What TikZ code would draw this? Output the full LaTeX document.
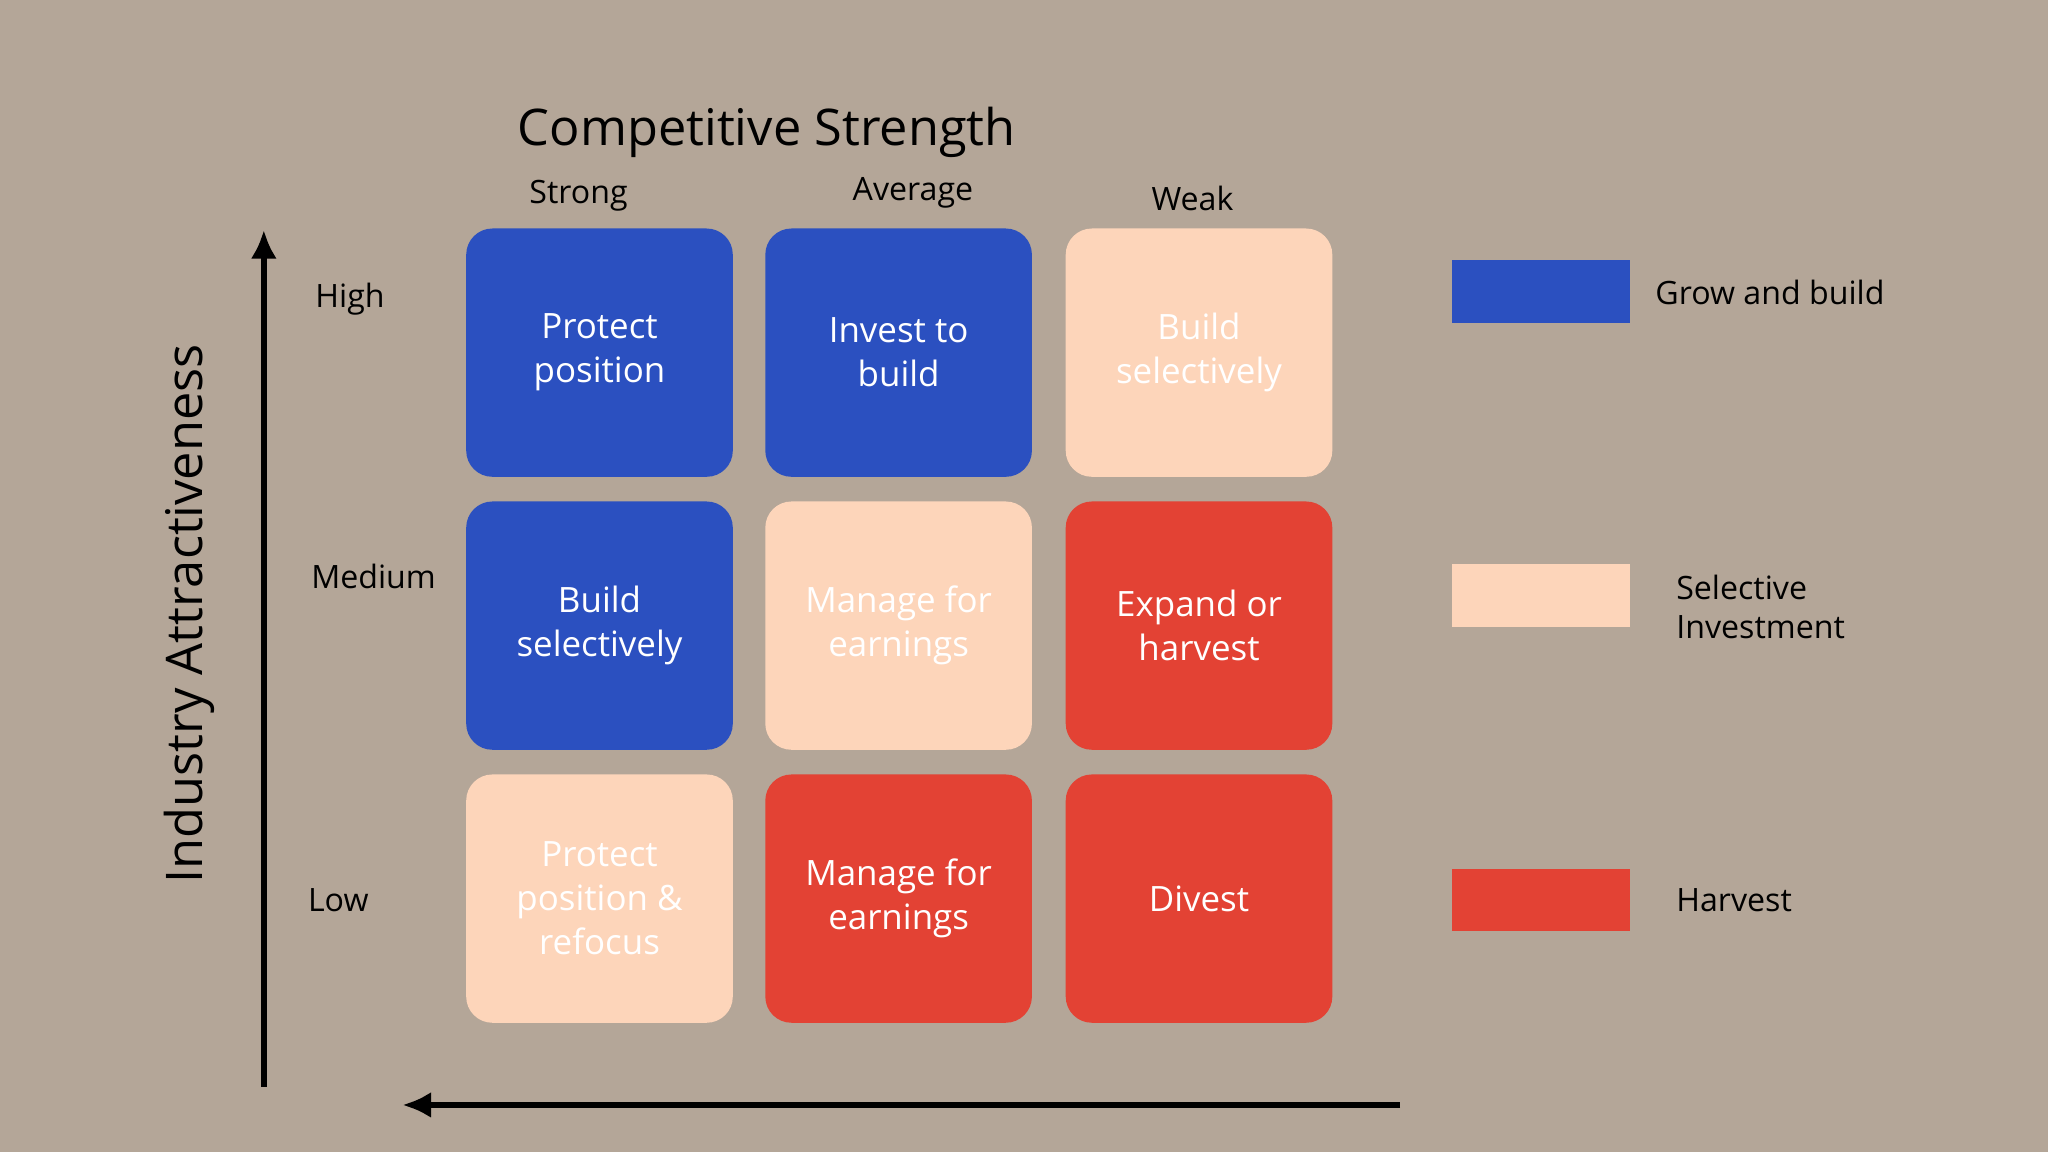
\documentclass[tikz,border=0pt]{standalone}
\usepackage{fontspec}
\setmainfont{Open Sans}
\definecolor{bg}{HTML}{B4A698}
\definecolor{cblue}{HTML}{2B50C0}
\definecolor{cpeach}{HTML}{FDD5BA}
\definecolor{cred}{HTML}{E34234}
\begin{document}
\begin{tikzpicture}[x=0.01cm,y=-0.01cm,
  cell/.style={rounded corners=0.2cm,minimum width=2.04cm,minimum height=1.9cm,text=white,align=center,font=\fontsize{7.6}{9.6}\selectfont,inner sep=0},
  lbl/.style={font=\fontsize{7}{8.5}\selectfont,text=black},
  leg/.style={minimum width=1.36cm,minimum height=0.48cm,inner sep=0},
  axis/.style={line width=0.05cm,-{Latex[length=0.22cm,width=0.2cm]}}]
\usetikzlibrary{arrows.meta}
\fill[bg] (0,0) rectangle (1568,882);
\useasboundingbox (0,0) rectangle (1568,882);
\node[cell,fill=cblue] (a) at (459,270) {Protect\\position};
\node[cell,fill=cblue] (b) at (688,270) {Invest to\\build};
\node[cell,fill=cpeach] (c) at (918,270) {Build\\selectively};
\node[cell,fill=cblue] (d) at (459,479) {Build\\selectively};
\node[cell,fill=cpeach] (e) at (688,479) {Manage for\\earnings};
\node[cell,fill=cred] (f) at (918,479) {Expand or\\harvest};
\node[cell,fill=cpeach] (g) at (459,688) {Protect\\position \&\\refocus};
\node[cell,fill=cred] (h) at (688,688) {Manage for\\earnings};
\node[cell,fill=cred] (i) at (918,688) {Divest};
\node[font=\fontsize{11}{13}\selectfont] (t) at (587,101) {Competitive Strength};
\node[lbl] (s1) at (443,150) {Strong};
\node[lbl] (s2) at (699,148) {Average};
\node[lbl] (s3) at (913,152) {Weak};
\node[lbl] (r1) at (268,229) {High};
\node[lbl] (r2) at (286,441) {Medium};
\node[lbl] (r3) at (259,689) {Low};
\node[rotate=90,font=\fontsize{11}{13}\selectfont] (v) at (145,470) {Industry Attractiveness};
\coordinate (v0) at (202,832); \coordinate (v1) at (202,176);
\draw[axis] (v0) -- (v1);
\coordinate (h0) at (1072,846); \coordinate (h1) at (308,846);
\draw[axis] (h0) -- (h1);
\node[leg,fill=cblue] (l1) at (1180,223) {};
\node[leg,fill=cpeach] (l2) at (1180,456) {};
\node[leg,fill=cred] (l3) at (1180,689) {};
\node[lbl,anchor=west] at (1255,224) {Grow and build};
\node[lbl,anchor=west,align=left] at (1271,465) {Selective\\Investment};
\node[lbl,anchor=west] at (1271,689) {Harvest};
\end{tikzpicture}
\end{document}
